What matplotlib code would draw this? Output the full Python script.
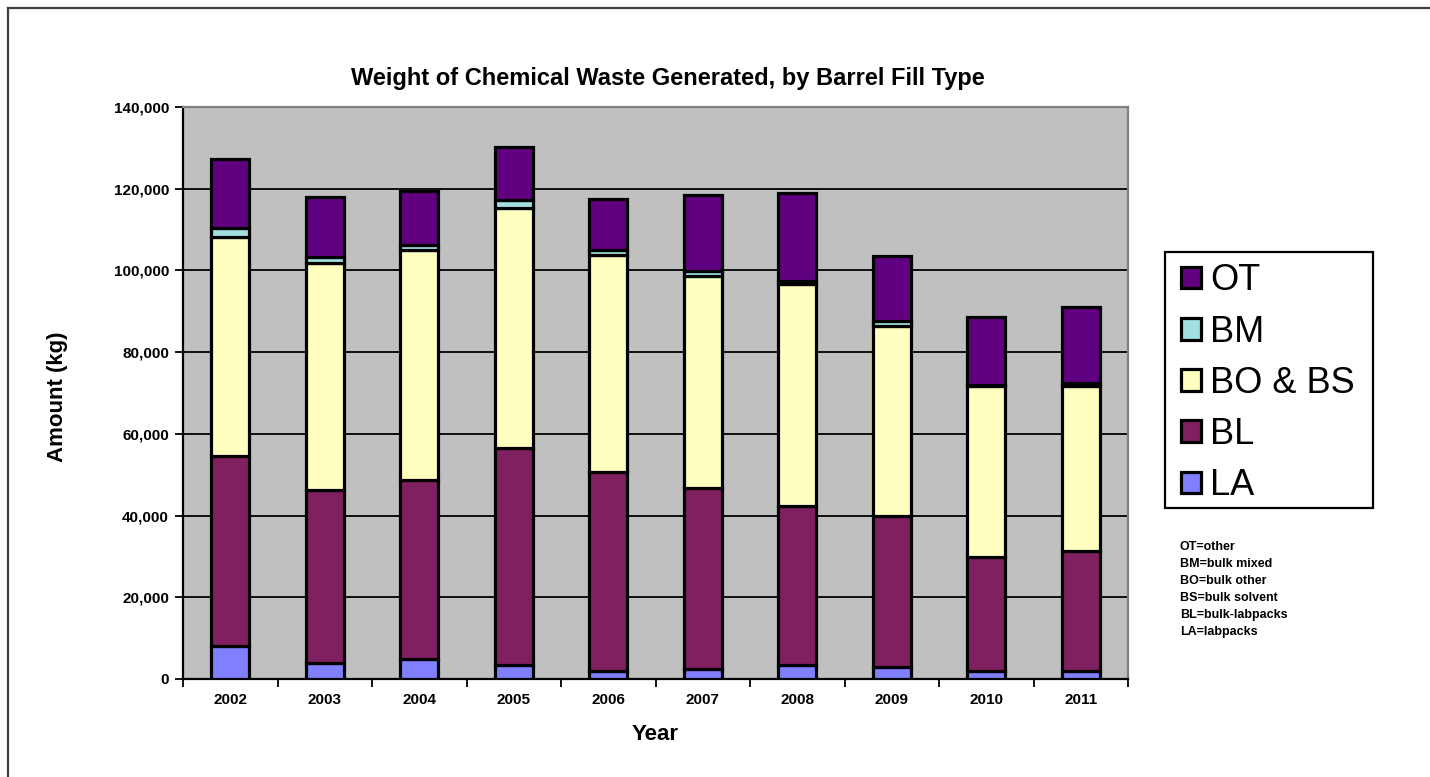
import matplotlib
matplotlib.use("Agg")
import matplotlib.pyplot as plt
from matplotlib.patches import Patch, Rectangle
from matplotlib.lines import Line2D
from matplotlib.ticker import FuncFormatter, MultipleLocator
import numpy as np

years = ["2002", "2003", "2004", "2005", "2006", "2007", "2008", "2009", "2010", "2011"]

# Weight per barrel fill type (kg)
la = [8000, 4000, 5000, 3500, 2000, 2500, 3500, 3000, 2000, 2000]
bl = [46500, 42300, 43700, 53000, 48600, 44200, 38800, 36800, 27800, 29300]
bo_bs = [53800, 55600, 56200, 58800, 53200, 51900, 54300, 46500, 41800, 40300]
bm = [2000, 1300, 1300, 1900, 1200, 1200, 900, 1200, 300, 800]
ot = [17000, 14800, 13300, 13100, 12400, 18600, 21400, 16100, 16800, 18700]

series_names = ["LA", "BL", "BO & BS", "BM", "OT"]
series_values = [la, bl, bo_bs, bm, ot]
series_colors = ["#8080FF", "#802060", "#FFFFC0", "#A0E0E0", "#600080"]

notes = ["OT=other", "BM=bulk mixed", "BO=bulk other", "BS=bulk solvent",
         "BL=bulk-labpacks", "LA=labpacks"]

W, H = 1430, 777
fig = plt.figure(figsize=(W / 100, H / 100), dpi=100)
fig.patch.set_facecolor("white")

ax = fig.add_axes([183 / W, 1 - 679 / H, (1128 - 183) / W, (679 - 107) / H])
ax.set_facecolor("#C0C0C0")

x = np.arange(len(years))
bottom = np.zeros(len(years))
for name, vals, col in zip(series_names, series_values, series_colors):
    vals = np.array(vals, dtype=float)
    ax.bar(x, vals, width=0.4, bottom=bottom, color=col, edgecolor="black",
           linewidth=2.3, zorder=3, label=name)
    bottom += vals

ax.set_xlim(-0.5, len(years) - 0.5)
ax.set_ylim(0, 140000)
ax.yaxis.set_major_locator(MultipleLocator(20000))
ax.yaxis.set_major_formatter(FuncFormatter(lambda v, p: f"{int(v):,}"))
ax.grid(axis="y", color="black", linewidth=1.3, zorder=1)
ax.set_axisbelow(True)

ax.set_xticks(x)
ax.set_xticklabels(years)
ax.set_xticks(np.arange(-0.5, len(years)), minor=True)
ax.tick_params(axis="x", which="major", length=0, pad=10)
ax.tick_params(axis="x", which="minor", length=6, width=1.3, direction="out")
ax.tick_params(axis="y", length=6, width=1.3, direction="out", pad=4)

for lab in ax.get_xticklabels() + ax.get_yticklabels():
    lab.set_fontfamily(["Liberation Sans", "DejaVu Sans"])
    lab.set_fontweight("bold")
    lab.set_fontsize(11)

for s in ("left", "bottom"):
    ax.spines[s].set_color("black")
    ax.spines[s].set_linewidth(1.6)
for s in ("top", "right"):
    ax.spines[s].set_color("#808080")
    ax.spines[s].set_linewidth(1.6)

ax.set_xlabel("Year", fontfamily=["Liberation Sans", "DejaVu Sans"],
              fontweight="bold", fontsize=16, labelpad=12)
fig.text(58 / W, 1 - 397 / H, "Amount (kg)", rotation=90, ha="center", va="center",
         fontfamily=["Liberation Sans", "DejaVu Sans"], fontweight="bold", fontsize=16)

fig.text(668 / W, 1 - 78 / H, "Weight of Chemical Waste Generated, by Barrel Fill Type",
         ha="center", va="center",
         fontfamily=["Liberation Sans Narrow", "Liberation Sans", "DejaVu Sans"],
         fontweight="bold", fontsize=17)

# Legend, top series first, with its own box
handles = [Patch(facecolor=c, edgecolor="black", linewidth=2.3)
           for c in series_colors][::-1]
labels = series_names[::-1]
fig.legend(handles, labels, loc="upper left",
           bbox_to_anchor=(1165 / W, 1 - 247 / H),
           prop=dict(family=["Liberation Sans", "DejaVu Sans"], size=26),
           frameon=False,
           handlelength=0.55, handleheight=0.55, handletextpad=0.25,
           labelspacing=0.45, borderpad=0.45, borderaxespad=0)
fig.add_artist(Rectangle((1165 / W, 1 - 508 / H), 208 / W, 256 / H,
                         transform=fig.transFigure, fill=False,
                         edgecolor="black", linewidth=1.6))

fig.text(1180 / W, 1 - 541 / H, "\n".join(notes), ha="left", va="top",
         fontfamily=["Liberation Sans", "DejaVu Sans"], fontweight="bold",
         fontsize=9, linespacing=1.56)

# Page frame
fig.add_artist(Line2D([8 / W, 8 / W], [0, 1 - 8 / H], color="#404040", linewidth=1.6))
fig.add_artist(Line2D([8 / W, 1], [1 - 8 / H, 1 - 8 / H], color="#404040", linewidth=1.6))

fig.savefig("out.png", dpi=100)
